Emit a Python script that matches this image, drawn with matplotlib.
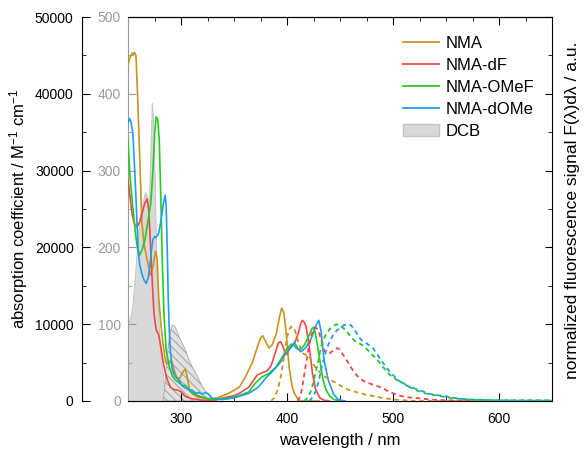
import matplotlib
matplotlib.use('Agg')
import matplotlib.pyplot as plt
from matplotlib.ticker import MultipleLocator, NullFormatter
from matplotlib.lines import Line2D
from matplotlib.patches import Patch

plt.rcParams['font.family'] = ['Liberation Sans', 'DejaVu Sans']
plt.rcParams['mathtext.fontset'] = 'custom'
plt.rcParams['mathtext.rm'] = 'Liberation Sans'
plt.rcParams['mathtext.it'] = 'Liberation Sans:italic'
plt.rcParams['hatch.linewidth'] = 0.8

# ---------------- data ----------------
labels = ['NMA', 'NMA-dF', 'NMA-OMeF', 'NMA-dOMe']
colors = ['#C8951E', '#F04848', '#22CC22', '#1E9EF0']

# absorption (M^-1 cm^-1)
nma_wl = [250, 252, 254, 255, 256, 257.5, 259, 261, 263, 265, 268, 271, 273.5, 276, 277.5, 279, 281, 283,
          285.5, 288, 291, 293, 296, 299, 302, 304, 306, 308, 311, 315, 320, 325, 330, 336, 345, 355, 361,
          367, 372, 375, 377, 380, 383, 386, 390, 393, 395, 397, 399, 402, 405, 407, 410, 413, 430]
nma_abs = [43700, 44800, 45300, 45000, 45400, 45000, 40000, 32000, 23500, 20500, 18500, 16400, 17500, 19500,
           18500, 13500, 10000, 7500, 5000, 4800, 5300, 4300, 3000, 3000, 3800, 4200, 3000, 1500, 900, 600,
           400, 300, 300, 500, 1000, 1800, 3200, 4900, 7000, 8200, 8500, 7700, 6900, 7300, 8800, 11000,
           12100, 11500, 9200, 4400, 1800, 1000, 300, 0, 0]

df_wl = [250, 252, 254, 256.5, 258.5, 261, 264, 266, 268, 269.5, 271, 272.5, 274.5, 276.5, 279, 281, 283,
         285, 287, 290, 293, 297, 300, 304, 310, 320, 330, 340, 350, 355, 364, 372, 377, 381, 385, 389,
         392, 394, 396, 398, 400, 402, 405, 408, 411, 413, 414.5, 416, 418, 420, 421.5, 424, 427, 431,
         435, 440]
df_abs = [28800, 26500, 24200, 22900, 22700, 23300, 24800, 25800, 26300, 25000, 21000, 16600, 11400, 9300,
          8600, 7000, 5200, 3800, 2800, 1800, 1500, 1400, 1200, 600, 300, 100, 100, 400, 700, 1000, 1800,
          3400, 3700, 3900, 4600, 6300, 7600, 7700, 7200, 6300, 6100, 6800, 7200, 7800, 9000, 10100, 10500,
          10300, 9700, 8000, 6500, 3600, 1500, 400, 100, 0]

omef_wl = [250, 252, 254.5, 257, 259, 261, 263.5, 266, 269, 271.5, 273.5, 275, 276.5, 278, 279.5, 281,
           282.5, 284, 286, 289, 292, 295, 299, 302, 304.5, 306.5, 309, 313, 318, 325, 330, 340, 350, 357,
           364, 370, 376, 383, 389.5, 395.5, 400.5, 404, 406, 408.5, 412, 416.5, 421, 423.5, 425, 426.5,
           428, 431, 434, 437, 440, 444, 450]
omef_abs = [34000, 29000, 25300, 21800, 19800, 19000, 19800, 21000, 23600, 25800, 30000, 34500, 37000,
            36700, 34000, 26200, 17500, 11000, 6600, 4400, 3200, 2700, 2300, 2000, 2000, 1600, 1200, 900,
            600, 300, 200, 300, 500, 800, 1200, 2300, 3100, 3600, 4400, 5700, 6900, 7400, 7300, 6900, 6600,
            7300, 8600, 9400, 9600, 9000, 7800, 5300, 2700, 1400, 700, 200, 0]

dome_wl = [250, 251.5, 253, 254.6, 256, 257.6, 259.5, 261, 263, 265, 267, 269, 270.6, 272, 273.5, 275,
           276.5, 278, 279, 280.5, 282, 283.5, 285, 286, 287, 288, 289, 290, 291.5, 294, 298, 301, 304, 307,
           310.5, 314, 317, 320, 323, 326, 329, 333, 340, 350, 357, 364, 373, 380, 386, 393, 399, 404, 407,
           410, 413, 418, 423, 427.5, 430, 432, 435, 439, 443.5, 448, 455]
dome_abs = [36200, 36800, 36200, 34800, 31000, 26200, 19700, 17800, 16600, 15800, 15300, 16000, 17500,
            19500, 21000, 21400, 21300, 21600, 21900, 23000, 24400, 25800, 26800, 25500, 20000, 13100, 9000,
            6600, 4300, 3300, 2700, 2000, 1700, 1500, 1400, 1000, 1100, 900, 1100, 900, 400, 200, 200, 400,
            700, 1000, 1800, 3000, 3800, 4900, 6200, 7000, 7600, 6900, 6400, 7000, 8200, 9900, 10500, 9200,
            5300, 2700, 1000, 200, 0]

# normalized fluorescence (a.u.)
nma_fl_wl = [385, 388, 391, 393.5, 395.6, 398, 400, 402, 404, 406, 408, 410, 412.5, 415, 418, 420, 422,
             424, 428, 433, 440, 447, 453, 459, 467, 475, 483, 490, 500, 510, 520, 650]
nma_fl = [0, 0.04, 0.14, 0.27, 0.44, 0.66, 0.83, 0.93, 0.97, 0.96, 0.90, 0.80, 0.69, 0.62, 0.60, 0.60,
          0.55, 0.49, 0.42, 0.34, 0.28, 0.23, 0.18, 0.14, 0.11, 0.08, 0.06, 0.04, 0.02, 0.01, 0.0, 0.0]

df_fl_wl = [410, 413, 415, 417.5, 420, 422.5, 424.6, 426.5, 428.5, 430.5, 433, 435, 437.5, 440, 443, 447.5,
            450, 452, 455.5, 459, 463, 468, 472.5, 477.5, 484, 490, 495, 500, 506, 513, 520, 528, 540, 560,
            580, 650]
df_fl = [0, 0.08, 0.23, 0.45, 0.66, 0.83, 0.92, 0.96, 0.94, 0.88, 0.76, 0.66, 0.62, 0.62, 0.65, 0.69,
         0.67, 0.62, 0.55, 0.47, 0.38, 0.30, 0.26, 0.23, 0.20, 0.17, 0.13, 0.10, 0.07, 0.05, 0.04, 0.03,
         0.015, 0.005, 0, 0]

omef_fl_wl = [416, 418, 420.5, 423, 425, 427.5, 430, 432, 435, 438, 442, 446.6, 449, 452, 455.5, 459, 462,
              465, 468, 471, 475, 479, 483.5, 488, 492.5, 497, 503, 510, 516, 522, 530, 538, 546, 554, 562,
              571, 580, 600, 620, 650]
omef_fl = [0, 0.02, 0.07, 0.14, 0.25, 0.40, 0.55, 0.70, 0.82, 0.90, 0.96, 1.0, 0.99, 0.96, 0.92, 0.86,
           0.81, 0.77, 0.75, 0.73, 0.68, 0.62, 0.56, 0.49, 0.41, 0.34, 0.28, 0.23, 0.18, 0.14, 0.10, 0.08,
           0.06, 0.04, 0.03, 0.02, 0.015, 0.01, 0.005, 0.005]

dome_fl_wl = [421, 423, 425, 427.5, 430, 432, 434.5, 437, 440, 443.6, 447, 451, 454, 457.6, 460, 462, 465,
              468, 470.5, 473, 477, 481, 485, 489, 493, 497, 502, 507, 513, 519, 527, 535, 545, 554, 562,
              571, 585, 600, 620, 635, 650]
dome_fl = [0, 0.03, 0.07, 0.14, 0.26, 0.40, 0.53, 0.66, 0.77, 0.86, 0.92, 0.96, 0.99, 1.0, 0.99, 0.96,
           0.90, 0.83, 0.79, 0.77, 0.73, 0.69, 0.61, 0.53, 0.45, 0.38, 0.31, 0.25, 0.20, 0.17, 0.13, 0.09,
           0.07, 0.05, 0.03, 0.02, 0.015, 0.01, 0.01, 0.01, 0.01]

# DCB absorption (grey axis)
dcb_wl = [250, 252, 253, 254.5, 256, 258, 259.6, 261, 263, 265, 266, 267.5, 269, 270, 271, 271.7, 272.5,
          273.5, 274.5, 275.5, 277, 278.5, 280, 282, 284, 285, 287]
dcb_val = [101, 108, 114, 130, 153, 190, 219, 238, 253, 266, 272, 268, 258, 270, 320, 349, 388, 370, 340,
           262, 175, 110, 75, 45, 20, 10, 0]
dcb2_wl = [283, 284.5, 286, 287.5, 289, 290.5, 292, 293.5, 295, 296.5, 298, 300.5, 303, 305.5, 307.7,
           310.5, 314, 317, 320, 322.5, 325, 329.5, 334]
dcb2_val = [0, 15, 45, 65, 84, 93, 99, 98, 95, 90, 84, 77, 70, 62, 53, 45, 36, 28, 19, 14, 10, 4, 0]

abs_wl = [nma_wl, df_wl, omef_wl, dome_wl]
abs_val = [nma_abs, df_abs, omef_abs, dome_abs]
fl_wl = [nma_fl_wl, df_fl_wl, omef_fl_wl, dome_fl_wl]
fl_val = [nma_fl, df_fl, omef_fl, dome_fl]

# ---------------- figure ----------------
W, H = 584, 449
fig = plt.figure(figsize=(W / 100, H / 100), dpi=100)
Lp, Rp, Tp, Bp = 128, 552, 17, 401
ax = fig.add_axes([Lp / W, 1 - Bp / H, (Rp - Lp) / W, (Bp - Tp) / H])
ax.set_xlim(250, 650)
ax.set_ylim(0, 500)

grey = '#9a9a9a'
ax.fill_between(dcb_wl, dcb_val, 0, facecolor='#d9d9d9', edgecolor='#c8c8c8', lw=0.8, zorder=1)
ax.fill_between(dcb2_wl, dcb2_val, 0, facecolor='#e2e2e2', edgecolor='#a8a8a8', hatch='\\\\\\\\',
                lw=0.6, zorder=1)

ax.spines['left'].set_color(grey)
ax.spines['right'].set_visible(False)
ax.yaxis.set_major_locator(MultipleLocator(100))
ax.yaxis.set_minor_locator(MultipleLocator(50))
ax.tick_params(axis='y', which='both', direction='in', colors=grey, labelcolor=grey, labelsize=10, pad=5)
ax.tick_params(axis='y', which='major', length=5.5)
ax.tick_params(axis='y', which='minor', length=3)
ax.xaxis.set_major_locator(MultipleLocator(100))
ax.xaxis.set_minor_locator(MultipleLocator(50))
ax.tick_params(axis='x', which='both', direction='in', labelsize=10, pad=8, top=False)
ax.tick_params(axis='x', which='major', length=5.5)
ax.tick_params(axis='x', which='minor', length=4)

sec = ax.secondary_xaxis('top')
sec.xaxis.set_major_locator(MultipleLocator(100))
sec.xaxis.set_minor_locator(MultipleLocator(25))
sec.xaxis.set_major_formatter(NullFormatter())
sec.tick_params(axis='x', which='both', direction='in')
sec.tick_params(axis='x', which='major', length=5.5)
sec.tick_params(axis='x', which='minor', length=3)

# absorption axis (outer left)
axA = ax.twinx()
axA.set_ylim(0, 50000)
axA.yaxis.tick_left()
axA.spines['left'].set_visible(True)
axA.spines['left'].set_position(('outward', 46 * 0.72))
for s in ['right', 'top', 'bottom']:
    axA.spines[s].set_visible(False)
axA.yaxis.set_major_locator(MultipleLocator(10000))
axA.yaxis.set_minor_locator(MultipleLocator(5000))
axA.tick_params(axis='y', which='both', direction='in', labelsize=10, pad=6)
axA.tick_params(axis='y', which='major', length=5.5)
axA.tick_params(axis='y', which='minor', length=3)
for wl, v, c in zip(abs_wl, abs_val, colors):
    axA.plot(wl, v, color=c, lw=1.2)

# fluorescence axis (right)
axF = ax.twinx()
axF.set_ylim(0, 5)
for s in ['left', 'top', 'bottom']:
    axF.spines[s].set_visible(False)
axF.yaxis.set_major_locator(MultipleLocator(1))
axF.yaxis.set_minor_locator(MultipleLocator(0.5))
axF.yaxis.set_major_formatter(NullFormatter())
axF.tick_params(axis='y', which='both', direction='in')
axF.tick_params(axis='y', which='major', length=5)
axF.tick_params(axis='y', which='minor', length=3)
for wl, v, c in zip(fl_wl, fl_val, colors):
    axF.plot(wl, v, color=c, lw=1.3, linestyle=(0, (2.6, 2.0)))

handles = [Line2D([], [], color=c, lw=1.3) for c in colors]
handles.append(Patch(facecolor='#d9d9d9', edgecolor='#c4c4c4'))
axF.legend(handles, labels + ['DCB'], loc='upper left', bbox_to_anchor=(396 / W, 1 - 29 / H),
           bbox_transform=fig.transFigure, frameon=False, fontsize=12, handlelength=2.2,
           handletextpad=0.35, labelspacing=0.42, borderaxespad=0, borderpad=0.4)

fig.text(19 / W, 1 - 209 / H, 'absorption coefficient / M$^{-1}$ cm$^{-1}$', rotation=90,
         ha='center', va='center', fontsize=12)
fig.text(340 / W, 1 - 441 / H, 'wavelength / nm', ha='center', va='center', fontsize=12)
fig.text(572 / W, 1 - 210 / H, 'normalized fluorescence signal F(λ)dλ / a.u.', rotation=90,
         ha='center', va='center', fontsize=12.5)

fig.savefig('out.png', dpi=100)
